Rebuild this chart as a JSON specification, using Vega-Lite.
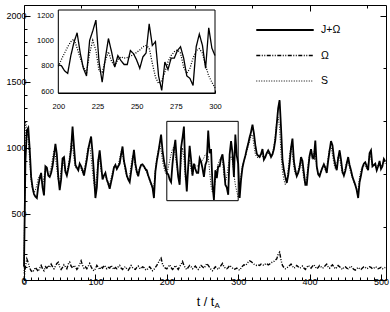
{
"$schema": "https://vega.github.io/schema/vega-lite/v6.json",
"width": 362, "height": 275,
"autosize": {"type": "none"},
"padding": {"left": 24, "top": 5, "right": 4, "bottom": 32},
"background": "white",
"config": {
  "view": {"stroke": null},
  "font": "Liberation Sans",
  "axis": {"grid": false, "domainColor": "black", "tickColor": "black", "labelColor": "black", "titleColor": "black", "labelFont": "Liberation Sans", "titleFont": "Liberation Sans", "titleFontWeight": "normal", "domainWidth": 1, "tickWidth": 1, "labelOverlap": false, "labelFlush": false},
  "legend": {"orient": "none", "legendX": 231, "legendY": 17, "symbolType": "stroke", "symbolSize": 3300, "symbolStrokeColor": "black", "labelFontSize": 10.5, "labelFont": "Liberation Sans", "labelColor": "black", "labelOffset": 6, "clipHeight": 16, "rowPadding": 9.5}
},
"datasets": {"d": [
{"t":0,"J+Ω":100,"Ω":0,"S":50},{"t":2,"J+Ω":900,"Ω":100,"S":1200},{"t":4,"J+Ω":1130,"Ω":160,"S":1150},{"t":6,"J+Ω":1150,"Ω":130,"S":1050},{"t":8,"J+Ω":990,"Ω":90,"S":900},{"t":10,"J+Ω":780,"Ω":70,"S":750},{"t":12,"J+Ω":700,"Ω":60,"S":680},{"t":14,"J+Ω":650,"Ω":75,"S":660},{"t":16,"J+Ω":630,"Ω":95,"S":680},{"t":18,"J+Ω":620,"Ω":80,"S":720},
{"t":20,"J+Ω":710,"Ω":65,"S":770},{"t":22,"J+Ω":770,"Ω":90,"S":790},{"t":24,"J+Ω":810,"Ω":110,"S":760},{"t":26,"J+Ω":700,"Ω":85,"S":720},{"t":28,"J+Ω":640,"Ω":70,"S":780},{"t":30,"J+Ω":860,"Ω":100,"S":840},{"t":32,"J+Ω":850,"Ω":90,"S":820},{"t":34,"J+Ω":790,"Ω":110,"S":800},{"t":36,"J+Ω":780,"Ω":95,"S":810},{"t":38,"J+Ω":810,"Ω":120,"S":850},
{"t":40,"J+Ω":860,"Ω":100,"S":920},{"t":42,"J+Ω":940,"Ω":85,"S":980},{"t":44,"J+Ω":1030,"Ω":105,"S":940},{"t":46,"J+Ω":950,"Ω":125,"S":840},{"t":48,"J+Ω":780,"Ω":135,"S":750},{"t":50,"J+Ω":680,"Ω":100,"S":740},{"t":52,"J+Ω":760,"Ω":80,"S":840},{"t":54,"J+Ω":920,"Ω":95,"S":900},{"t":56,"J+Ω":930,"Ω":115,"S":870},{"t":58,"J+Ω":820,"Ω":100,"S":810},
{"t":60,"J+Ω":790,"Ω":85,"S":820},{"t":62,"J+Ω":840,"Ω":120,"S":870},{"t":64,"J+Ω":900,"Ω":135,"S":940},{"t":66,"J+Ω":990,"Ω":105,"S":1040},{"t":68,"J+Ω":1160,"Ω":90,"S":1020},{"t":70,"J+Ω":1010,"Ω":110,"S":920},{"t":72,"J+Ω":870,"Ω":100,"S":850},{"t":74,"J+Ω":850,"Ω":80,"S":840},{"t":76,"J+Ω":830,"Ω":95,"S":850},{"t":78,"J+Ω":880,"Ω":120,"S":860},
{"t":80,"J+Ω":860,"Ω":145,"S":840},{"t":82,"J+Ω":830,"Ω":110,"S":810},{"t":84,"J+Ω":790,"Ω":90,"S":830},{"t":86,"J+Ω":850,"Ω":100,"S":880},{"t":88,"J+Ω":910,"Ω":85,"S":950},{"t":90,"J+Ω":990,"Ω":105,"S":1010},{"t":92,"J+Ω":1040,"Ω":125,"S":1020},{"t":94,"J+Ω":1085,"Ω":100,"S":930},{"t":96,"J+Ω":960,"Ω":80,"S":820},{"t":98,"J+Ω":800,"Ω":70,"S":720},
{"t":100,"J+Ω":620,"Ω":85,"S":700},{"t":102,"J+Ω":700,"Ω":110,"S":800},{"t":104,"J+Ω":900,"Ω":95,"S":920},{"t":106,"J+Ω":980,"Ω":80,"S":910},{"t":108,"J+Ω":870,"Ω":100,"S":820},{"t":110,"J+Ω":760,"Ω":90,"S":780},{"t":112,"J+Ω":790,"Ω":110,"S":800},{"t":114,"J+Ω":810,"Ω":100,"S":790},{"t":116,"J+Ω":760,"Ω":85,"S":750},{"t":118,"J+Ω":730,"Ω":95,"S":720},
{"t":120,"J+Ω":690,"Ω":90,"S":730},{"t":122,"J+Ω":740,"Ω":110,"S":770},{"t":124,"J+Ω":790,"Ω":95,"S":820},{"t":126,"J+Ω":850,"Ω":80,"S":860},{"t":128,"J+Ω":870,"Ω":95,"S":855},{"t":130,"J+Ω":840,"Ω":85,"S":850},{"t":132,"J+Ω":860,"Ω":100,"S":870},{"t":134,"J+Ω":880,"Ω":110,"S":920},{"t":136,"J+Ω":950,"Ω":90,"S":970},{"t":138,"J+Ω":1010,"Ω":80,"S":950},
{"t":140,"J+Ω":900,"Ω":95,"S":880},{"t":142,"J+Ω":850,"Ω":100,"S":820},{"t":144,"J+Ω":790,"Ω":85,"S":780},{"t":146,"J+Ω":760,"Ω":75,"S":760},{"t":148,"J+Ω":740,"Ω":90,"S":790},{"t":150,"J+Ω":820,"Ω":110,"S":870},{"t":152,"J+Ω":900,"Ω":95,"S":940},{"t":154,"J+Ω":985,"Ω":85,"S":920},{"t":156,"J+Ω":880,"Ω":80,"S":850},{"t":158,"J+Ω":820,"Ω":95,"S":800},
{"t":160,"J+Ω":785,"Ω":105,"S":810},{"t":162,"J+Ω":840,"Ω":90,"S":850},{"t":164,"J+Ω":870,"Ω":85,"S":870},{"t":166,"J+Ω":875,"Ω":100,"S":865},{"t":168,"J+Ω":860,"Ω":95,"S":850},{"t":170,"J+Ω":840,"Ω":80,"S":830},{"t":172,"J+Ω":830,"Ω":75,"S":810},{"t":174,"J+Ω":790,"Ω":90,"S":780},{"t":176,"J+Ω":760,"Ω":100,"S":750},{"t":178,"J+Ω":730,"Ω":85,"S":720},
{"t":180,"J+Ω":700,"Ω":70,"S":690},{"t":182,"J+Ω":620,"Ω":80,"S":720},{"t":184,"J+Ω":820,"Ω":95,"S":840},{"t":186,"J+Ω":900,"Ω":110,"S":920},{"t":188,"J+Ω":960,"Ω":130,"S":980},{"t":190,"J+Ω":1030,"Ω":150,"S":1020},{"t":192,"J+Ω":1100,"Ω":165,"S":980},{"t":194,"J+Ω":980,"Ω":120,"S":900},{"t":196,"J+Ω":900,"Ω":100,"S":850},{"t":198,"J+Ω":850,"Ω":90,"S":810},
{"t":200,"J+Ω":808,"Ω":85,"S":795},{"t":202,"J+Ω":800,"Ω":100,"S":850},{"t":204,"J+Ω":760,"Ω":115,"S":900},{"t":206,"J+Ω":740,"Ω":95,"S":950},{"t":208,"J+Ω":880,"Ω":80,"S":990},{"t":210,"J+Ω":985,"Ω":90,"S":1010},{"t":212,"J+Ω":1060,"Ω":110,"S":940},{"t":214,"J+Ω":900,"Ω":95,"S":860},{"t":216,"J+Ω":780,"Ω":80,"S":790},{"t":218,"J+Ω":720,"Ω":100,"S":745},
{"t":220,"J+Ω":1000,"Ω":120,"S":900},{"t":222,"J+Ω":1075,"Ω":140,"S":1000},{"t":224,"J+Ω":1160,"Ω":110,"S":920},{"t":226,"J+Ω":830,"Ω":90,"S":760},{"t":228,"J+Ω":670,"Ω":80,"S":750},{"t":230,"J+Ω":860,"Ω":95,"S":840},{"t":232,"J+Ω":1015,"Ω":110,"S":910},{"t":234,"J+Ω":910,"Ω":100,"S":835},{"t":236,"J+Ω":790,"Ω":85,"S":795},{"t":238,"J+Ω":880,"Ω":95,"S":850},
{"t":240,"J+Ω":840,"Ω":105,"S":870},{"t":242,"J+Ω":810,"Ω":90,"S":860},{"t":244,"J+Ω":810,"Ω":80,"S":865},{"t":246,"J+Ω":920,"Ω":95,"S":875},{"t":248,"J+Ω":895,"Ω":110,"S":890},{"t":250,"J+Ω":845,"Ω":100,"S":905},{"t":252,"J+Ω":780,"Ω":90,"S":925},{"t":254,"J+Ω":870,"Ω":105,"S":950},{"t":256,"J+Ω":900,"Ω":125,"S":960},{"t":258,"J+Ω":1130,"Ω":110,"S":940},
{"t":260,"J+Ω":960,"Ω":95,"S":820},{"t":262,"J+Ω":990,"Ω":80,"S":710},{"t":264,"J+Ω":720,"Ω":70,"S":660},{"t":266,"J+Ω":605,"Ω":85,"S":680},{"t":268,"J+Ω":830,"Ω":100,"S":750},{"t":270,"J+Ω":770,"Ω":90,"S":830},{"t":272,"J+Ω":860,"Ω":80,"S":880},{"t":274,"J+Ω":860,"Ω":95,"S":910},{"t":276,"J+Ω":920,"Ω":110,"S":925},{"t":278,"J+Ω":950,"Ω":125,"S":900},
{"t":280,"J+Ω":860,"Ω":100,"S":790},{"t":282,"J+Ω":720,"Ω":90,"S":740},{"t":284,"J+Ω":700,"Ω":85,"S":780},{"t":286,"J+Ω":645,"Ω":95,"S":860},{"t":288,"J+Ω":950,"Ω":110,"S":920},{"t":290,"J+Ω":1050,"Ω":100,"S":935},{"t":292,"J+Ω":960,"Ω":90,"S":900},{"t":294,"J+Ω":780,"Ω":80,"S":800},{"t":296,"J+Ω":1100,"Ω":85,"S":720},{"t":298,"J+Ω":940,"Ω":90,"S":670},
{"t":300,"J+Ω":880,"Ω":80,"S":624},{"t":302,"J+Ω":620,"Ω":75,"S":680},{"t":304,"J+Ω":760,"Ω":90,"S":800},{"t":306,"J+Ω":850,"Ω":105,"S":870},{"t":308,"J+Ω":900,"Ω":115,"S":900},{"t":310,"J+Ω":940,"Ω":110,"S":930},{"t":312,"J+Ω":990,"Ω":120,"S":970},{"t":314,"J+Ω":1030,"Ω":135,"S":1010},{"t":316,"J+Ω":1080,"Ω":145,"S":1050},{"t":318,"J+Ω":1120,"Ω":140,"S":1090},
{"t":320,"J+Ω":1175,"Ω":130,"S":1100},{"t":322,"J+Ω":1110,"Ω":120,"S":1020},{"t":324,"J+Ω":1020,"Ω":115,"S":950},{"t":326,"J+Ω":955,"Ω":110,"S":930},{"t":328,"J+Ω":940,"Ω":115,"S":925},{"t":330,"J+Ω":930,"Ω":110,"S":940},{"t":332,"J+Ω":955,"Ω":120,"S":960},{"t":334,"J+Ω":990,"Ω":115,"S":935},{"t":336,"J+Ω":910,"Ω":110,"S":920},{"t":338,"J+Ω":930,"Ω":120,"S":940},
{"t":340,"J+Ω":960,"Ω":125,"S":955},{"t":342,"J+Ω":980,"Ω":115,"S":960},{"t":344,"J+Ω":960,"Ω":120,"S":945},{"t":346,"J+Ω":930,"Ω":130,"S":940},{"t":348,"J+Ω":950,"Ω":135,"S":960},{"t":350,"J+Ω":990,"Ω":140,"S":1010},{"t":352,"J+Ω":1060,"Ω":150,"S":1100},{"t":354,"J+Ω":1180,"Ω":160,"S":1200},{"t":356,"J+Ω":1300,"Ω":195,"S":1230},{"t":358,"J+Ω":1360,"Ω":210,"S":1150},
{"t":360,"J+Ω":1150,"Ω":150,"S":950},{"t":362,"J+Ω":910,"Ω":110,"S":820},{"t":364,"J+Ω":830,"Ω":95,"S":760},{"t":366,"J+Ω":780,"Ω":85,"S":720},{"t":368,"J+Ω":735,"Ω":90,"S":740},{"t":370,"J+Ω":790,"Ω":100,"S":840},{"t":372,"J+Ω":880,"Ω":110,"S":950},{"t":374,"J+Ω":1000,"Ω":120,"S":1010},{"t":376,"J+Ω":1070,"Ω":105,"S":950},{"t":378,"J+Ω":900,"Ω":90,"S":850},
{"t":380,"J+Ω":830,"Ω":95,"S":800},{"t":382,"J+Ω":785,"Ω":110,"S":800},{"t":384,"J+Ω":810,"Ω":100,"S":830},{"t":386,"J+Ω":850,"Ω":90,"S":880},{"t":388,"J+Ω":930,"Ω":95,"S":900},{"t":390,"J+Ω":900,"Ω":105,"S":840},{"t":392,"J+Ω":810,"Ω":90,"S":760},{"t":394,"J+Ω":720,"Ω":80,"S":730},{"t":396,"J+Ω":720,"Ω":95,"S":780},{"t":398,"J+Ω":840,"Ω":110,"S":880},
{"t":400,"J+Ω":940,"Ω":100,"S":950},{"t":402,"J+Ω":990,"Ω":90,"S":940},{"t":404,"J+Ω":930,"Ω":105,"S":910},{"t":406,"J+Ω":920,"Ω":115,"S":970},{"t":408,"J+Ω":1055,"Ω":100,"S":960},{"t":410,"J+Ω":860,"Ω":85,"S":850},{"t":412,"J+Ω":800,"Ω":95,"S":800},{"t":414,"J+Ω":785,"Ω":110,"S":800},{"t":416,"J+Ω":820,"Ω":100,"S":830},{"t":418,"J+Ω":850,"Ω":90,"S":855},
{"t":420,"J+Ω":875,"Ω":95,"S":860},{"t":422,"J+Ω":850,"Ω":110,"S":830},{"t":424,"J+Ω":810,"Ω":120,"S":850},{"t":426,"J+Ω":900,"Ω":100,"S":930},{"t":428,"J+Ω":980,"Ω":90,"S":1000},{"t":430,"J+Ω":1050,"Ω":105,"S":1010},{"t":432,"J+Ω":1020,"Ω":115,"S":950},{"t":434,"J+Ω":930,"Ω":100,"S":880},{"t":436,"J+Ω":870,"Ω":85,"S":840},{"t":438,"J+Ω":830,"Ω":95,"S":870},
{"t":440,"J+Ω":920,"Ω":110,"S":940},{"t":442,"J+Ω":980,"Ω":100,"S":930},{"t":444,"J+Ω":910,"Ω":90,"S":860},{"t":446,"J+Ω":820,"Ω":80,"S":800},{"t":448,"J+Ω":790,"Ω":95,"S":800},{"t":450,"J+Ω":825,"Ω":100,"S":850},{"t":452,"J+Ω":880,"Ω":90,"S":900},{"t":454,"J+Ω":930,"Ω":85,"S":900},{"t":456,"J+Ω":870,"Ω":95,"S":850},{"t":458,"J+Ω":830,"Ω":105,"S":800},
{"t":460,"J+Ω":780,"Ω":90,"S":770},{"t":462,"J+Ω":750,"Ω":80,"S":740},{"t":464,"J+Ω":720,"Ω":75,"S":710},{"t":466,"J+Ω":680,"Ω":85,"S":680},{"t":468,"J+Ω":620,"Ω":95,"S":690},{"t":470,"J+Ω":740,"Ω":85,"S":780},{"t":472,"J+Ω":790,"Ω":80,"S":830},{"t":474,"J+Ω":850,"Ω":90,"S":860},{"t":476,"J+Ω":880,"Ω":100,"S":870},{"t":478,"J+Ω":890,"Ω":95,"S":860},
{"t":480,"J+Ω":860,"Ω":85,"S":840},{"t":482,"J+Ω":830,"Ω":90,"S":880},{"t":484,"J+Ω":960,"Ω":100,"S":950},{"t":486,"J+Ω":980,"Ω":95,"S":920},{"t":488,"J+Ω":860,"Ω":85,"S":860},{"t":490,"J+Ω":870,"Ω":90,"S":870},{"t":492,"J+Ω":880,"Ω":100,"S":860},{"t":494,"J+Ω":830,"Ω":95,"S":840},{"t":496,"J+Ω":860,"Ω":85,"S":870},{"t":498,"J+Ω":900,"Ω":90,"S":870},
{"t":500,"J+Ω":840,"Ω":95,"S":850},{"t":502,"J+Ω":860,"Ω":85,"S":880},{"t":504,"J+Ω":915,"Ω":90,"S":900},{"t":506,"J+Ω":895,"Ω":95,"S":880}
]},
"layer": [
  {
    "data": {"name": "d"},
    "transform": [{"fold": ["J+Ω", "Ω", "S"], "as": ["s", "v"]}],
    "mark": {"type": "line", "color": "black", "strokeCap": "butt", "strokeJoin": "miter"},
    "encoding": {
      "x": {"field": "t", "type": "quantitative", "scale": {"domain": [0, 507], "nice": false, "zero": false},
        "axis": {"orient": "bottom", "values": [0,10,20,30,40,50,60,70,80,90,100,110,120,130,140,150,160,170,180,190,200,210,220,230,240,250,260,270,280,290,300,310,320,330,340,350,360,370,380,390,400,410,420,430,440,450,460,470,480,490,500],
          "tickSize": {"condition": {"test": "datum.value % 100 === 0", "value": -6}, "value": -3},
          "labelExpr": "datum.value % 100 === 0 ? format(datum.value, 'd') : ''", "labelFontSize": 9, "labelPadding": 3,
          "title": "t / t", "titleFontSize": 12.5, "titlePadding": 6}},
      "y": {"field": "v", "type": "quantitative", "scale": {"domain": [0, 2080], "nice": false},
        "axis": {"orient": "left", "values": [0,100,200,300,400,500,600,700,800,900,1000,1100,1200,1300,1400,1500,1600,1700,1800,1900,2000],
          "tickSize": {"condition": {"test": "datum.value % 500 === 0", "value": -6}, "value": -3},
          "labelExpr": "datum.value % 500 === 0 ? format(datum.value, 'd') : ''", "labelFontSize": 9, "labelPadding": 4, "title": null}},
      "strokeDash": {"field": "s", "type": "nominal", "scale": {"domain": ["J+Ω", "Ω", "S"], "range": [[1, 0], [4, 1.5, 1, 1.5, 1, 1.5], [1, 1.5]]}, "legend": {"title": null}},
      "strokeWidth": {"field": "s", "type": "nominal", "scale": {"domain": ["J+Ω", "Ω", "S"], "range": [1.8, 1, 1]}, "legend": {"title": null}}
    }
  },
  {
    "data": {"values": [{}]},
    "layer": [
      {
        "mark": {"type": "rect", "fill": null, "stroke": "black", "strokeWidth": 1},
        "encoding": {
          "x": {"datum": 200, "type": "quantitative", "scale": {"domain": [0, 507], "nice": false, "zero": false},
            "axis": {"orient": "top", "values": [0,10,20,30,40,50,60,70,80,90,100,110,120,130,140,150,160,170,180,190,200,210,220,230,240,250,260,270,280,290,300,310,320,330,340,350,360,370,380,390,400,410,420,430,440,450,460,470,480,490,500],
              "tickSize": {"condition": {"test": "datum.value % 100 === 0", "value": -6}, "value": -3}, "labels": false, "title": null}},
          "x2": {"datum": 300},
          "y": {"datum": 600, "type": "quantitative", "scale": {"domain": [0, 2080], "nice": false},
            "axis": {"orient": "right", "values": [0,100,200,300,400,500,600,700,800,900,1000,1100,1200,1300,1400,1500,1600,1700,1800,1900,2000],
              "tickSize": {"condition": {"test": "datum.value % 500 === 0", "value": -6}, "value": -3}, "labels": false, "title": null}},
          "y2": {"datum": 1200}
        }
      },
      {
        "mark": {"type": "text", "text": "A", "fontSize": 8, "baseline": "middle", "align": "center", "color": "black"},
        "encoding": {"x": {"datum": 270.5, "type": "quantitative"}, "y": {"datum": -198, "type": "quantitative"}}
      }
    ]
  },
  {
    "layer": [
      {
        "data": {"values": [{}]},
        "mark": {"type": "rect", "fill": "white", "stroke": "black", "strokeWidth": 1},
        "encoding": {
          "x": {"datum": 200, "type": "quantitative", "scale": {"domain": [200, 300], "range": [34.3, 191], "nice": false, "zero": false},
            "axis": {"orient": "bottom", "offset": -187, "values": [200, 225, 250, 275, 300], "tickSize": -3, "format": "d", "labelFontSize": 7.5, "labelPadding": 12, "title": null}},
          "x2": {"datum": 300},
          "y": {"datum": 585, "type": "quantitative", "scale": {"domain": [585, 1240], "range": [88, 5], "nice": false, "zero": false},
            "axis": {"orient": "left", "offset": -34.3, "values": [600, 800, 1000, 1200], "tickSize": -3, "format": "d", "labelFontSize": 7.5, "labelPadding": 8, "title": null}},
          "y2": {"datum": 1240}
        }
      },
      {
        "data": {"name": "d"},
        "transform": [{"filter": "datum.t >= 200 && datum.t <= 300"}, {"fold": ["J+Ω", "S"], "as": ["s", "v"]}],
        "mark": {"type": "line", "color": "black", "strokeWidth": 1.3, "strokeCap": "butt"},
        "encoding": {
          "x": {"field": "t", "type": "quantitative"},
          "y": {"field": "v", "type": "quantitative"},
          "strokeDash": {"field": "s", "type": "nominal"}
        }
      }
    ]
  }
],
"resolve": {"scale": {"x": "independent", "y": "independent"}}
}
